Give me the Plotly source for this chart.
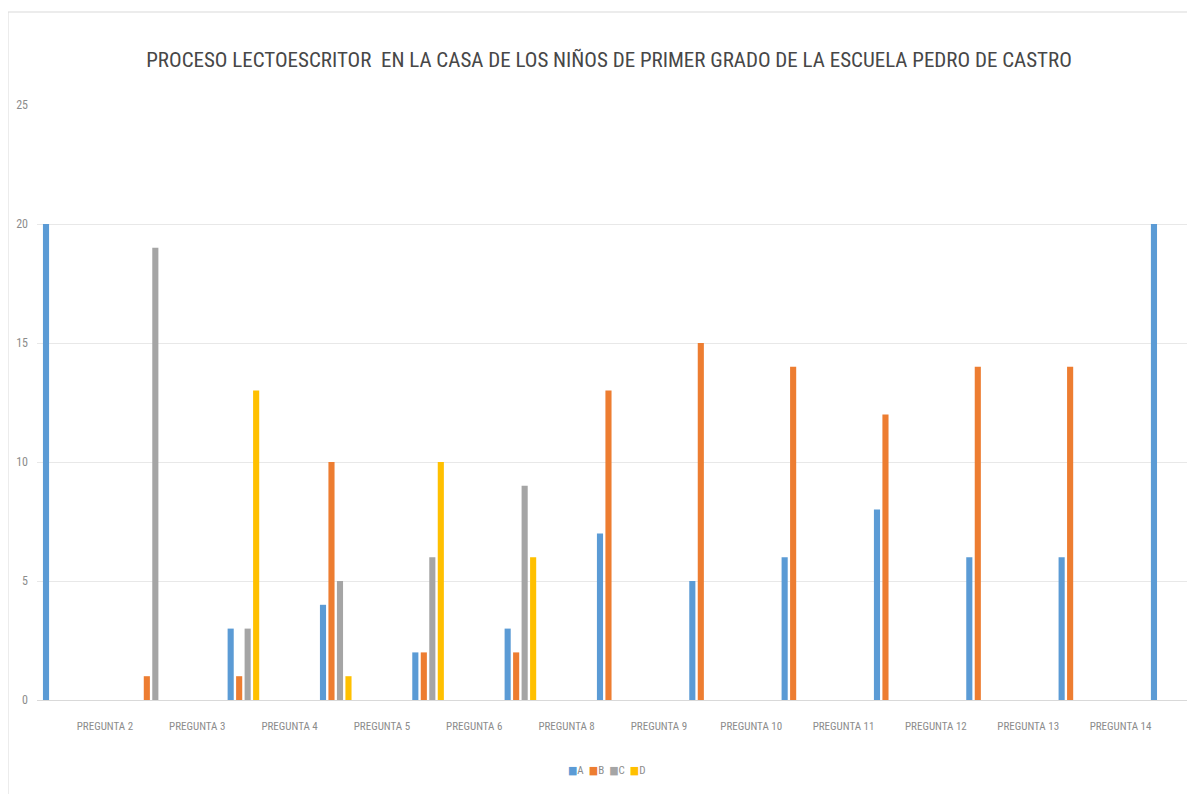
import plotly.graph_objects as go

# ---- data ----
tick_labels = ["PREGUNTA 2", "PREGUNTA 3", "PREGUNTA 4", "PREGUNTA 5", "PREGUNTA 6",
               "PREGUNTA 8", "PREGUNTA 9", "PREGUNTA 10", "PREGUNTA 11", "PREGUNTA 12",
               "PREGUNTA 13", "PREGUNTA 14"]
group_index = list(range(13))
serie_A = [20, 0, 3, 4, 2, 3, 7, 5, 6, 8, 6, 6, 20]
serie_B = [0, 1, 1, 10, 2, 2, 13, 15, 14, 12, 14, 14, 0]
serie_C = [0, 19, 3, 5, 6, 9, 0, 0, 0, 0, 0, 0, 0]
serie_D = [0, 0, 13, 1, 10, 6, 0, 0, 0, 0, 0, 0, 0]
series_names = ["A", "B", "C", "D"]
series_colors = ["#5B9BD5", "#ED7D31", "#A5A5A5", "#FFC000"]

title_text = "PROCESO LECTOESCRITOR  EN LA CASA DE LOS NIÑOS DE PRIMER GRADO DE LA ESCUELA PEDRO DE CASTRO"

NARROW = "Liberation Sans Narrow, Arial Narrow, Roboto Condensed, DejaVu Sans Condensed, sans-serif"

fig = go.Figure()
for name, vals, col in zip(series_names, [serie_A, serie_B, serie_C, serie_D], series_colors):
    fig.add_trace(go.Bar(x=group_index, y=vals, name=name,
                         marker=dict(color=col, line=dict(width=0)), showlegend=False))

# page has an 8px body margin: figure origin sits at page (8, 8)
OFF = 8
W, H = 1195 - OFF, 794 - OFF
L = 37 - OFF
R = W - (1188 - OFF)
T = 105 - OFF
B = H - (700 - OFF)
pw, ph = W - L - R, H - T - B

def px_x(p):  # page pixel -> paper x
    return (p - OFF - L) / pw

def px_y(p):  # page pixel -> paper y
    return (H - B - (p - OFF)) / ph

legend_text = "  ".join(
    f"<span style='color:{c}'>■</span>{n}" for n, c in zip(series_names, series_colors)
)

fig.update_layout(
    width=W, height=H,
    margin=dict(l=L, r=R, t=T, b=B, autoexpand=False),
    paper_bgcolor="white", plot_bgcolor="white",
    barmode="group", bargap=0.632, bargroupgap=0.28,
    title=dict(text=title_text, x=(609 - OFF) / W, xanchor="center", xref="container",
               y=1 - (60 - OFF) / H, yanchor="middle", yref="container",
               font=dict(family=NARROW, size=21, color="#474747")),
    showlegend=False,
    font=dict(family=NARROW),
)

fig.add_annotation(text=legend_text, xref="paper", yref="paper",
                   x=px_x(606), y=px_y(770), xanchor="center", yanchor="middle",
                   showarrow=False, font=dict(family=NARROW, size=11, color="#8c8c8c"))

span = 92.33          # px per group in the original
c0 = 58.75 - OFF      # first group's centre in figure px
fig.update_xaxes(
    range=[(L - c0) / span, (W - R - c0) / span],
    tickmode="array", tickvals=[i + 0.5 for i in range(len(tick_labels))], ticktext=tick_labels,
    tickfont=dict(family=NARROW, size=11, color="#8c8c8c"),
    showgrid=False, zeroline=False, showline=True, linecolor="#d9d9d9", linewidth=1,
    ticks="", ticklabelstandoff=16, automargin=False,
)
fig.update_yaxes(
    range=[0, 25], tickvals=[0, 5, 10, 15, 20, 25],
    tickfont=dict(family=NARROW, size=12, color="#8c8c8c"),
    showgrid=True, gridcolor="#e8e8e8", gridwidth=1, zeroline=False, showline=False,
    ticks="", ticklabelstandoff=8, automargin=False,
)

fig.add_shape(type="rect", xref="paper", yref="paper",
              x0=px_x(8), x1=px_x(1190), y0=px_y(805), y1=px_y(12),
              line=dict(color="#d9d9d9", width=1), fillcolor="rgba(0,0,0,0)", layer="below")

fig.write_html("out.html")
